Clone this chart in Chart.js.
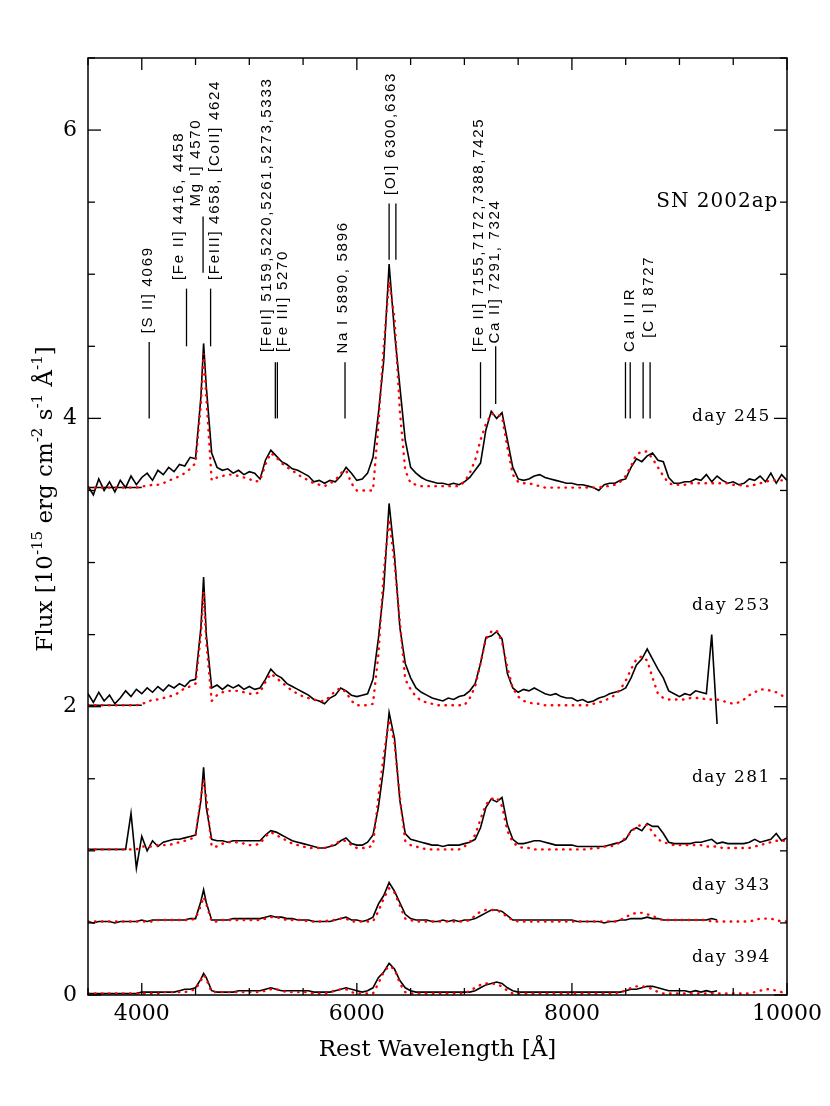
<!DOCTYPE html>
<html>
<head>
<meta charset="utf-8">
<script src="https://cdn.jsdelivr.net/npm/chart.js@4.4.1/dist/chart.umd.min.js"></script>
<style>
  body { margin: 0; background: #fff; }
  canvas { display: block; }
</style>
</head>
<body>
<canvas id="spec" width="830" height="1106"></canvas>
<script>
// SN 2002ap nebular spectra (black) and model fits (red dotted)
// rest wavelength grid, Angstrom
const wavelength = [
  3500,3550,3600,3650,3700,3750,3800,3850,3900,3950,
  4000,4050,4100,4150,4200,4250,4300,4350,4400,4450,
  4500,4550,4575,4600,4650,4700,4750,4800,4850,4900,
  4950,5000,5050,5100,5150,5200,5250,5300,5350,5400,
  5450,5500,5550,5600,5650,5700,5750,5800,5850,5900,
  5950,6000,6050,6100,6150,6200,6250,6300,6350,6400,
  6450,6500,6550,6600,6650,6700,6750,6800,6850,6900,
  6950,7000,7050,7100,7150,7200,7250,7300,7350,7400,
  7450,7500,7550,7600,7650,7700,7750,7800,7850,7900,
  7950,8000,8050,8100,8150,8200,8250,8300,8350,8400,
  8450,8500,8550,8600,8650,8700,8750,8800,8850,8900,
  8950,9000,9050,9100,9150,9200,9250,9300,9350,9400,
  9450,9500,9550,9600,9650,9700,9750,9800,9850,9900,
  9950,10000
];

// observed flux as plotted (offsets included), 1e-15 erg/cm2/s/A
const flux245 = [
  3.53,3.47,3.58,3.50,3.56,3.49,3.57,3.52,3.60,3.54,
  3.59,3.62,3.57,3.64,3.61,3.66,3.63,3.68,3.67,3.73,
  3.72,4.15,4.52,4.22,3.76,3.66,3.64,3.65,3.62,3.64,
  3.61,3.63,3.62,3.58,3.71,3.78,3.74,3.70,3.68,3.65,
  3.64,3.62,3.60,3.56,3.57,3.55,3.57,3.56,3.60,3.66,
  3.62,3.57,3.58,3.62,3.73,4.03,4.40,5.07,4.60,4.22,
  3.85,3.66,3.62,3.59,3.57,3.56,3.55,3.55,3.54,3.55,
  3.54,3.56,3.59,3.64,3.69,3.92,4.05,4.00,4.04,3.85,
  3.66,3.58,3.57,3.58,3.60,3.61,3.59,3.58,3.57,3.56,
  3.55,3.55,3.54,3.54,3.53,3.52,3.50,3.54,3.55,3.55,
  3.57,3.58,3.66,3.72,3.70,3.74,3.76,3.71,3.70,3.59,
  3.55,3.55,3.56,3.56,3.58,3.57,3.61,3.56,3.60,3.57,
  3.55,3.56,3.54,3.55,3.58,3.57,3.60,3.56,3.62,3.55,
  3.61,3.57
];
const flux253 = [
  2.09,2.03,2.10,2.04,2.08,2.02,2.06,2.11,2.07,2.12,
  2.09,2.13,2.10,2.14,2.11,2.15,2.13,2.16,2.14,2.18,
  2.19,2.55,2.90,2.50,2.13,2.15,2.12,2.15,2.13,2.15,
  2.12,2.14,2.12,2.13,2.19,2.26,2.22,2.20,2.16,2.14,
  2.12,2.10,2.08,2.05,2.04,2.02,2.06,2.08,2.13,2.11,
  2.08,2.07,2.08,2.09,2.19,2.47,2.82,3.41,3.05,2.55,
  2.30,2.20,2.13,2.10,2.08,2.06,2.05,2.04,2.06,2.05,
  2.07,2.08,2.11,2.16,2.30,2.48,2.49,2.52,2.47,2.23,
  2.13,2.10,2.12,2.11,2.13,2.11,2.09,2.08,2.09,2.07,
  2.06,2.06,2.04,2.05,2.03,2.04,2.06,2.07,2.09,2.10,
  2.11,2.13,2.20,2.29,2.33,2.40,2.33,2.26,2.20,2.11,
  2.09,2.07,2.09,2.08,2.11,2.10,2.09,2.50,1.88,null,
  null,null,null,null,null,null,null,null,null,null,
  null,null
];
const flux281 = [
  1.01,1.01,1.01,1.01,1.01,1.01,1.01,1.01,1.26,0.88,
  1.10,1.00,1.07,1.03,1.06,1.07,1.08,1.08,1.09,1.10,
  1.11,1.35,1.58,1.30,1.08,1.07,1.07,1.06,1.07,1.07,
  1.07,1.07,1.07,1.07,1.11,1.14,1.13,1.11,1.09,1.07,
  1.06,1.05,1.04,1.03,1.02,1.02,1.03,1.04,1.07,1.09,
  1.05,1.04,1.04,1.06,1.11,1.30,1.58,1.96,1.78,1.35,
  1.12,1.08,1.07,1.06,1.05,1.04,1.04,1.03,1.04,1.04,
  1.04,1.05,1.06,1.08,1.16,1.30,1.36,1.34,1.37,1.18,
  1.08,1.05,1.05,1.06,1.07,1.07,1.06,1.05,1.04,1.04,
  1.04,1.04,1.03,1.03,1.03,1.03,1.03,1.03,1.04,1.05,
  1.06,1.08,1.14,1.16,1.14,1.19,1.17,1.17,1.12,1.06,
  1.05,1.05,1.05,1.05,1.06,1.06,1.07,1.08,1.05,1.06,
  1.05,1.05,1.05,1.05,1.06,1.08,1.06,1.07,1.08,1.12,
  1.07,1.09
];
const flux343 = [
  0.51,0.50,0.51,0.51,0.51,0.50,0.51,0.51,0.51,0.51,
  0.52,0.51,0.52,0.52,0.52,0.52,0.52,0.52,0.52,0.53,
  0.53,0.65,0.73,0.64,0.52,0.52,0.52,0.52,0.53,0.53,
  0.53,0.53,0.53,0.53,0.54,0.55,0.54,0.54,0.53,0.53,
  0.52,0.52,0.52,0.51,0.51,0.51,0.51,0.52,0.53,0.54,
  0.52,0.52,0.51,0.52,0.54,0.63,0.69,0.78,0.72,0.64,
  0.56,0.53,0.52,0.52,0.52,0.51,0.51,0.52,0.51,0.52,
  0.51,0.52,0.52,0.53,0.55,0.57,0.59,0.59,0.58,0.55,
  0.52,0.52,0.52,0.52,0.52,0.52,0.52,0.52,0.52,0.52,
  0.52,0.52,0.51,0.51,0.51,0.51,0.51,0.50,0.51,0.51,
  0.52,0.52,0.53,0.53,0.53,0.54,0.53,0.53,0.52,0.52,
  0.52,0.52,0.52,0.52,0.52,0.52,0.52,0.53,0.52,null,
  null,null,null,null,null,null,null,null,null,null,
  null,null
];
const flux394 = [
  0.01,0.01,0.01,0.01,0.01,0.01,0.01,0.01,0.01,0.01,
  0.02,0.02,0.02,0.02,0.02,0.02,0.02,0.03,0.04,0.04,
  0.05,0.11,0.15,0.12,0.03,0.02,0.02,0.02,0.02,0.03,
  0.03,0.03,0.03,0.03,0.04,0.05,0.04,0.03,0.03,0.03,
  0.03,0.03,0.03,0.02,0.02,0.02,0.02,0.03,0.04,0.05,
  0.04,0.03,0.02,0.03,0.05,0.12,0.16,0.22,0.18,0.10,
  0.05,0.03,0.02,0.02,0.02,0.02,0.02,0.02,0.02,0.02,
  0.02,0.02,0.02,0.03,0.05,0.07,0.08,0.09,0.08,0.05,
  0.03,0.02,0.02,0.02,0.02,0.02,0.02,0.02,0.02,0.02,
  0.02,0.02,0.02,0.02,0.02,0.02,0.02,0.02,0.02,0.02,
  0.02,0.03,0.04,0.04,0.05,0.06,0.06,0.05,0.04,0.03,
  0.03,0.03,0.03,0.02,0.03,0.02,0.03,0.02,0.03,null,
  null,null,null,null,null,null,null,null,null,null,
  null,null
];

// synthetic (model) spectra
const model245 = [
  3.52,3.52,3.52,3.52,3.52,3.52,3.52,3.52,3.52,3.52,
  3.53,3.53,3.54,3.54,3.55,3.57,3.58,3.60,3.62,3.65,
  3.69,4.10,4.45,4.15,3.57,3.59,3.60,3.61,3.61,3.60,
  3.59,3.58,3.56,3.57,3.68,3.76,3.73,3.69,3.66,3.64,
  3.61,3.59,3.57,3.55,3.54,3.53,3.55,3.57,3.62,3.64,
  3.55,3.50,3.50,3.50,3.50,3.95,4.50,4.95,4.70,4.05,
  3.64,3.55,3.54,3.53,3.53,3.53,3.53,3.53,3.53,3.53,
  3.53,3.56,3.62,3.71,3.85,3.96,4.03,4.03,4.01,3.80,
  3.61,3.56,3.55,3.55,3.54,3.53,3.52,3.52,3.52,3.52,
  3.52,3.52,3.52,3.52,3.52,3.52,3.52,3.53,3.53,3.54,
  3.56,3.60,3.67,3.75,3.77,3.77,3.72,3.66,3.60,3.55,
  3.54,3.54,3.54,3.55,3.55,3.55,3.55,3.55,3.55,3.55,
  3.55,3.54,3.54,3.53,3.53,3.54,3.55,3.56,3.57,3.57,
  3.57,3.57
];
const model253 = [
  2.01,2.01,2.01,2.01,2.01,2.01,2.01,2.01,2.01,2.01,
  2.02,2.03,2.05,2.05,2.06,2.07,2.08,2.10,2.13,2.14,
  2.16,2.50,2.80,2.45,2.04,2.08,2.10,2.11,2.11,2.11,
  2.10,2.09,2.09,2.10,2.17,2.23,2.20,2.17,2.14,2.11,
  2.09,2.07,2.06,2.05,2.04,2.04,2.07,2.11,2.13,2.10,
  2.04,2.01,2.01,2.01,2.02,2.36,2.93,3.30,3.00,2.59,
  2.19,2.12,2.07,2.04,2.03,2.02,2.01,2.01,2.01,2.01,
  2.01,2.01,2.06,2.14,2.30,2.47,2.52,2.53,2.45,2.27,
  2.13,2.07,2.04,2.03,2.02,2.02,2.01,2.01,2.01,2.01,
  2.01,2.01,2.01,2.01,2.01,2.02,2.03,2.04,2.06,2.08,
  2.12,2.18,2.26,2.33,2.35,2.32,2.20,2.09,2.06,2.05,
  2.05,2.05,2.05,2.06,2.06,2.06,2.05,2.05,2.05,2.04,
  2.03,2.02,2.03,2.05,2.08,2.10,2.12,2.12,2.11,2.10,
  2.08,2.05
];
const model281 = [
  1.01,1.01,1.01,1.01,1.01,1.01,1.01,1.01,1.01,1.01,
  1.03,1.03,1.03,1.04,1.04,1.04,1.05,1.06,1.07,1.08,
  1.10,1.37,1.49,1.37,1.03,1.03,1.05,1.06,1.06,1.06,
  1.05,1.04,1.04,1.05,1.10,1.13,1.11,1.09,1.07,1.05,
  1.04,1.03,1.02,1.02,1.02,1.02,1.03,1.05,1.07,1.07,
  1.04,1.02,1.02,1.02,1.04,1.37,1.66,1.91,1.75,1.37,
  1.07,1.04,1.03,1.02,1.01,1.01,1.01,1.01,1.01,1.01,
  1.01,1.03,1.06,1.11,1.22,1.32,1.36,1.37,1.31,1.14,
  1.06,1.03,1.02,1.02,1.01,1.01,1.01,1.01,1.01,1.01,
  1.01,1.01,1.01,1.01,1.01,1.02,1.02,1.03,1.03,1.04,
  1.06,1.09,1.13,1.17,1.18,1.18,1.13,1.08,1.06,1.05,
  1.04,1.04,1.04,1.04,1.04,1.04,1.03,1.03,1.03,1.02,
  1.02,1.02,1.02,1.02,1.02,1.03,1.04,1.05,1.06,1.07,
  1.07,1.07
];
const model343 = [
  0.51,0.51,0.51,0.51,0.51,0.51,0.51,0.51,0.51,0.51,
  0.51,0.51,0.51,0.52,0.52,0.52,0.52,0.52,0.52,0.52,
  0.53,0.62,0.68,0.63,0.51,0.51,0.52,0.52,0.52,0.52,
  0.52,0.52,0.52,0.52,0.53,0.54,0.54,0.53,0.52,0.52,
  0.52,0.52,0.51,0.51,0.51,0.51,0.52,0.52,0.53,0.53,
  0.51,0.51,0.51,0.51,0.51,0.58,0.67,0.74,0.71,0.62,
  0.53,0.52,0.51,0.51,0.51,0.51,0.51,0.51,0.51,0.51,
  0.51,0.51,0.52,0.55,0.58,0.59,0.59,0.59,0.57,0.54,
  0.52,0.51,0.51,0.51,0.51,0.51,0.51,0.51,0.51,0.51,
  0.51,0.51,0.51,0.51,0.51,0.51,0.51,0.51,0.51,0.51,
  0.52,0.54,0.56,0.57,0.57,0.56,0.55,0.53,0.52,0.52,
  0.52,0.52,0.52,0.52,0.52,0.52,0.52,0.51,0.51,0.51,
  0.51,0.51,0.51,0.51,0.51,0.52,0.53,0.53,0.53,0.52,
  0.51,0.51
];
const model394 = [
  0.01,0.01,0.01,0.01,0.01,0.01,0.01,0.01,0.01,0.01,
  0.01,0.01,0.01,0.01,0.02,0.02,0.02,0.02,0.02,0.03,
  0.04,0.10,0.14,0.11,0.02,0.02,0.02,0.02,0.02,0.02,
  0.02,0.02,0.02,0.02,0.03,0.04,0.04,0.03,0.02,0.02,
  0.02,0.02,0.02,0.01,0.01,0.01,0.02,0.03,0.04,0.04,
  0.02,0.01,0.01,0.01,0.01,0.08,0.16,0.20,0.18,0.08,
  0.02,0.01,0.01,0.01,0.01,0.01,0.01,0.01,0.01,0.01,
  0.01,0.01,0.03,0.05,0.07,0.08,0.08,0.075,0.06,0.03,
  0.01,0.01,0.01,0.01,0.01,0.01,0.01,0.01,0.01,0.01,
  0.01,0.01,0.01,0.01,0.01,0.01,0.01,0.01,0.01,0.01,
  0.02,0.03,0.05,0.06,0.06,0.055,0.04,0.02,0.01,0.01,
  0.01,0.01,0.01,0.01,0.01,0.01,0.01,0.01,0.01,0.01,
  0.01,0.01,0.01,0.01,0.01,0.02,0.03,0.04,0.04,0.03,
  0.02,0.01
];

// short continuum level marks at the blue end
const levelWave = [3500, 4000];
const level245 = [3.52, 3.52];
const level253 = [2.01, 2.01];

const epochs = ['day 245', 'day 253', 'day 281', 'day 343', 'day 394'];
const epochLabelFlux = [4.01, 2.70, 1.51, 0.76, 0.26];
const xTickLabels = [4000, 6000, 8000, 10000];
const yTickLabels = [0, 2, 4, 6];

// line identifications: label, where the label sits, marker wavelengths and extent
const lineIds = [
  { text: '[S II] 4069', at: 4059, from: 4.59, marks: [4069], lo: 4.00, hi: 4.53 },
  { text: '[Fe II] 4416, 4458', at: 4347, from: 4.96, marks: [4416], lo: 4.50, hi: 4.90 },
  { text: 'Mg I] 4570', at: 4505, from: 5.47, marks: [4570], lo: 5.01, hi: 5.40 },
  { text: '[FeIII] 4658, [CoII] 4624', at: 4677, from: 4.96, marks: [4640], lo: 4.50, hi: 4.90 },
  { text: '[FeII] 5159,5220,5261,5273,5333', at: 5165, from: 4.46, marks: [5242, 5261], lo: 4.00, hi: 4.39 },
  { text: '[Fe III] 5270', at: 5313, from: 4.46, marks: [], lo: 0, hi: 0 },
  { text: 'Na I 5890, 5896', at: 5873, from: 4.45, marks: [5890], lo: 4.00, hi: 4.39 },
  { text: '[OI] 6300,6363', at: 6312, from: 5.55, marks: [6300, 6363], lo: 5.10, hi: 5.49 },
  { text: '[Fe II] 7155,7172,7388,7425', at: 7134, from: 4.46, marks: [7150], lo: 4.00, hi: 4.39 },
  { text: 'Ca II] 7291, 7324', at: 7283, from: 4.52, marks: [7291], lo: 4.10, hi: 4.50 },
  { text: 'Ca II IR', at: 8536, from: 4.46, marks: [8498, 8542], lo: 4.00, hi: 4.39 },
  { text: '[C I] 8727', at: 8713, from: 4.56, marks: [8662, 8727], lo: 4.00, hi: 4.39 }
];

const observed = [flux245, flux253, flux281, flux343, flux394];
const models = [model245, model253, model281, model343, model394];

const pts = (xs, ys) => xs.map((w, i) => ({ x: w, y: ys[i] }));

const datasets = [];
models.forEach((m, i) => {
  datasets.push({
    label: epochs[i] + ' model',
    data: pts(wavelength, m),
    borderColor: '#ff0000',
    borderWidth: 2.4,
    borderDash: [0.5, 6.5],
    borderCapStyle: 'round',
    pointRadius: 0,
    order: 0
  });
});
observed.forEach((f, i) => {
  datasets.push({
    label: epochs[i],
    data: pts(wavelength, f),
    borderColor: '#000',
    borderWidth: 1.6,
    pointRadius: 0,
    spanGaps: false,
    order: 1
  });
});
[level245, level253].forEach(l => {
  datasets.push({ data: pts(levelWave, l), borderColor: '#000', borderWidth: 1.5, pointRadius: 0, order: 1 });
});

const line = (ctx, x1, y1, x2, y2) => {
  ctx.beginPath(); ctx.moveTo(x1, y1); ctx.lineTo(x2, y2); ctx.stroke();
};

const decorations = {
  id: 'decorations',
  afterDatasetsDraw(chart) {
    const { ctx, chartArea: a, scales: { x, y } } = chart;
    ctx.save();
    ctx.strokeStyle = '#000';
    ctx.fillStyle = '#000';

    // frame + inward ticks on all four sides
    ctx.lineWidth = 1.5;
    ctx.strokeRect(a.left, a.top, a.right - a.left, a.bottom - a.top);
    ctx.lineWidth = 1.3;
    for (let v = 3500; v <= 10000; v += 500) {
      const px = x.getPixelForValue(v);
      const len = v % 2000 === 0 ? 12 : 7;
      line(ctx, px, a.bottom, px, a.bottom - len);
      line(ctx, px, a.top, px, a.top + len);
    }
    for (let v = 0; v <= 6.5; v += 0.5) {
      const py = y.getPixelForValue(v);
      const len = v % 2 === 0 ? 13 : 7;
      line(ctx, a.left, py, a.left + len, py);
      line(ctx, a.right, py, a.right - len, py);
    }

    // line identification marks
    ctx.lineWidth = 1.3;
    lineIds.forEach(id => {
      id.marks.forEach(w => {
        const px = x.getPixelForValue(w);
        line(ctx, px, y.getPixelForValue(id.lo), px, y.getPixelForValue(id.hi));
      });
      ctx.save();
      ctx.translate(x.getPixelForValue(id.at), y.getPixelForValue(id.from));
      ctx.rotate(-Math.PI / 2);
      ctx.font = '15px "Liberation Sans", Arial, sans-serif';
      ctx.letterSpacing = '1.7px';
      ctx.textAlign = 'left';
      ctx.textBaseline = 'middle';
      ctx.fillText(id.text, 0, 0);
      ctx.restore();
    });

    // epoch labels and object name
    ctx.font = '17px "DejaVu Serif", serif';
    ctx.letterSpacing = '1.5px';
    ctx.textAlign = 'right';
    ctx.textBaseline = 'middle';
    epochs.forEach((e, i) => {
      ctx.fillText(e, x.getPixelForValue(9850), y.getPixelForValue(epochLabelFlux[i]));
    });
    ctx.font = '20px "DejaVu Serif", serif';
    ctx.letterSpacing = '1px';
    ctx.fillText('SN 2002ap', x.getPixelForValue(9920), y.getPixelForValue(5.5));
    ctx.letterSpacing = '0px';

    // y-axis title with superscripts
    const big = '23px "DejaVu Serif", serif';
    const small = '15px "DejaVu Serif", serif';
    const parts = [['Flux [10', 0], ['-15', 1], [' erg cm', 0], ['-2', 1], [' s', 0], ['-1', 1], [' Å', 0], ['-1', 1], [']', 0]];
    let total = 0;
    parts.forEach(p => { ctx.font = p[1] ? small : big; total += ctx.measureText(p[0]).width; });
    ctx.translate(52, 499);
    ctx.rotate(-Math.PI / 2);
    ctx.textAlign = 'left';
    ctx.textBaseline = 'alphabetic';
    let pos = -total / 2;
    parts.forEach(p => {
      ctx.font = p[1] ? small : big;
      ctx.fillText(p[0], pos, p[1] ? -10 : 0);
      pos += ctx.measureText(p[0]).width;
    });
    ctx.restore();
  }
};

new Chart(document.getElementById('spec'), {
  type: 'line',
  data: { datasets },
  options: {
    responsive: false,
    animation: false,
    layout: { padding: { top: 58, right: 43, left: 0, bottom: 0 } },
    plugins: { legend: { display: false }, tooltip: { enabled: false } },
    elements: { line: { tension: 0 } },
    scales: {
      x: {
        type: 'linear',
        min: 3500,
        max: 10000,
        afterFit: s => { s.height = 111; },
        afterBuildTicks: s => { s.ticks = xTickLabels.map(v => ({ value: v })); },
        grid: { display: false, drawTicks: false },
        border: { display: false },
        ticks: {
          color: '#000',
          padding: 6,
          maxRotation: 0,
          callback: v => String(v),
          font: { family: '"DejaVu Serif", serif', size: 22 }
        },
        title: {
          display: true,
          text: 'Rest Wavelength [Å]',
          color: '#000',
          font: { family: '"DejaVu Serif", serif', size: 23 },
          padding: { top: 0, bottom: 42 }
        }
      },
      y: {
        min: 0,
        max: 6.5,
        afterFit: s => { s.width = 88; },
        afterBuildTicks: s => { s.ticks = yTickLabels.map(v => ({ value: v })); },
        grid: { display: false, drawTicks: false },
        border: { display: false },
        ticks: {
          color: '#000',
          padding: 11,
          callback: v => String(v),
          font: { family: '"DejaVu Serif", serif', size: 22 }
        }
      }
    }
  },
  plugins: [decorations]
});
</script>
</body>
</html>
